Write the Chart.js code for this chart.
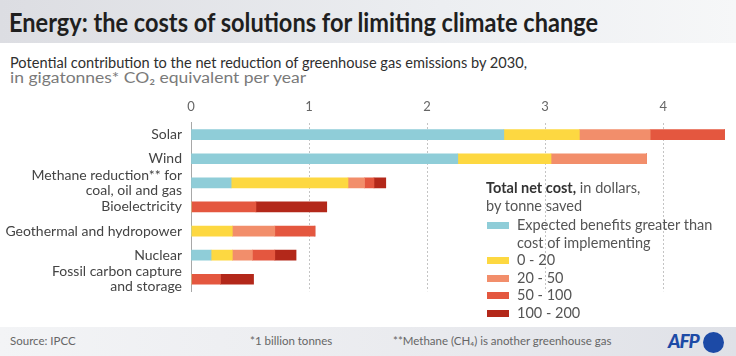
<!DOCTYPE html>
<html>
<head>
<meta charset="utf-8">
<script src="https://cdn.jsdelivr.net/npm/chart.js@4/dist/chart.umd.min.js"></script>
<style>
  html,body{margin:0;padding:0;}
  body{width:736px;height:356px;position:relative;overflow:hidden;background:#fff;font-family:Lato,"Open Sans",sans-serif;}
  .abs{position:absolute;white-space:nowrap;}
  #header{left:0;top:0;width:736px;height:43px;background:linear-gradient(to right,#dcdde2,#eceef1 60%,#f6f7f8);}
  #title{left:9px;top:6px;font-size:26px;font-weight:700;color:#1f1f1f;transform-origin:left center;}
  #sub1{left:10px;top:53px;font-size:15.5px;color:#2f2f2f;transform-origin:left center;}
  #sub2{left:10px;top:68px;font-size:15.5px;color:#7a7a7a;transform-origin:left center;}
  #chartwrap{left:0;top:88px;width:736px;height:220px;}
  #legend{left:486px;top:179px;font-size:14.5px;color:#555;line-height:17.5px;}
  .li{position:relative;padding-left:31px;}
  .sw{position:absolute;left:1px;top:6px;width:22px;height:7px;}
  #footer{left:0;top:327px;width:736px;height:29px;background:linear-gradient(to right,#f3f4f6,#e9eaee 60%,#dfe1e7);}
  .ft{top:334px;font-size:11.5px;color:#666;}
  #afp{left:668px;top:329px;font-size:19px;font-weight:900;font-style:italic;color:#1c4aa6;letter-spacing:-1px;}
  #dot{left:703px;top:332px;width:21px;height:21px;border-radius:50%;background:#1c4aa6;}
</style>
</head>
<body>
<div id="header" class="abs"></div>
<div id="title" class="abs">Energy: the costs of solutions for limiting climate change</div>
<div id="sub1" class="abs">Potential contribution to the net reduction of greenhouse gas emissions by 2030,</div>
<div id="sub2" class="abs">in gigatonnes* CO₂ equivalent per year</div>
<div id="chartwrap" class="abs"><canvas id="c" width="736" height="220"></canvas></div>
<div id="legend" class="abs"></div>
<div id="footer" class="abs"></div>
<div class="abs ft" style="left:10px;">Source: IPCC</div>
<div class="abs ft" style="left:250px;">*1 billion tonnes</div>
<div class="abs ft" style="left:393px;">**Methane (CH₄) is another greenhouse gas</div>
<div id="afp" class="abs">AFP</div>
<div id="dot" class="abs"></div>
<script>
// ---- data ----
const categories = [
  "Solar",
  "Wind",
  ["Methane reduction** for", "coal, oil and gas"],
  "Bioelectricity",
  "Geothermal and hydropower",
  "Nuclear",
  ["Fossil carbon capture", "and storage"]
];
const seriesNames = [
  ["Expected benefits greater than", "cost of implementing"],
  "0 - 20",
  "20 - 50",
  "50 - 100",
  "100 - 200"
];
const benefit   = [2.65, 2.26, 0.34, 0,    0,    0.17, 0];
const cost0_20  = [0.64, 0.79, 0.99, 0,    0.35, 0.18, 0];
const cost20_50 = [0.60, 0.81, 0.14, 0,    0.36, 0.17, 0];
const cost50_100= [0.63, 0,    0.08, 0.55, 0.34, 0.19, 0.25];
const cost100_200=[0,    0,    0.10, 0.60, 0,    0.18, 0.28];
const xTicks = [0, 1, 2, 3, 4];

const colors = ["#8fcdd8", "#fdd841", "#f28e6b", "#e4573f", "#b3281a"];
const seriesValues = [benefit, cost0_20, cost20_50, cost50_100, cost100_200];

// ---- legend (HTML) ----
const leg = document.getElementById('legend');
let html = '<div><b style="color:#333">Total net cost,</b> in dollars,</div><div>by tonne saved</div>';
seriesNames.forEach((n, i) => {
  const lines = Array.isArray(n) ? n : [n];
  html += '<div class="li" style="margin-top:' + (i === 0 ? 2 : 0) + 'px"><span class="sw" style="background:' + colors[i] + '"></span>' + lines.join('<br>') + '</div>';
});
leg.innerHTML = html;

// ---- fit text widths ----
function fit(id, w) {
  const el = document.getElementById(id);
  const r = el.getBoundingClientRect().width;
  el.style.transform = 'scaleX(' + (w / r) + ')';
}
fit('title', 589);
fit('sub1', 517);
fit('sub2', 296);

// ---- chart ----
new Chart(document.getElementById('c'), {
  type: 'bar',
  data: {
    labels: categories,
    datasets: seriesValues.map((v, i) => ({
      label: Array.isArray(seriesNames[i]) ? seriesNames[i].join(' ') : seriesNames[i],
      data: v,
      backgroundColor: colors[i],
      borderWidth: 0,
      barThickness: 10
    }))
  },
  options: {
    indexAxis: 'y',
    responsive: false,
    animation: false,
    layout: { padding: { top: 3, right: 2, bottom: 6, left: 0 } },
    plugins: { legend: { display: false }, tooltip: { enabled: false } },
    scales: {
      x: {
        position: 'top',
        stacked: true,
        min: 0,
        max: 4.6,
        afterBuildTicks: (s) => { s.ticks = xTicks.map(v => ({ value: v })); },
        ticks: { color: '#666', font: { family: 'Lato', size: 13 }, padding: 8 },
        grid: {
          drawTicks: false,
          color: (ctx) => (ctx.tick && ctx.tick.value === 0) ? 'rgba(0,0,0,0)' : '#c4c4c4',
          lineWidth: 1
        },
        border: { display: false, dash: [2, 2] }
      },
      y: {
        stacked: true,
        afterFit: (s) => { s.width = 191; },
        ticks: { color: '#444', font: { family: 'Lato', size: 14, lineHeight: 1.1 }, padding: 9, autoSkip: false },
        grid: { display: false, drawTicks: false },
        border: { display: true, color: '#a8a8a8', width: 1 }
      }
    }
  }
});
</script>
</body>
</html>
